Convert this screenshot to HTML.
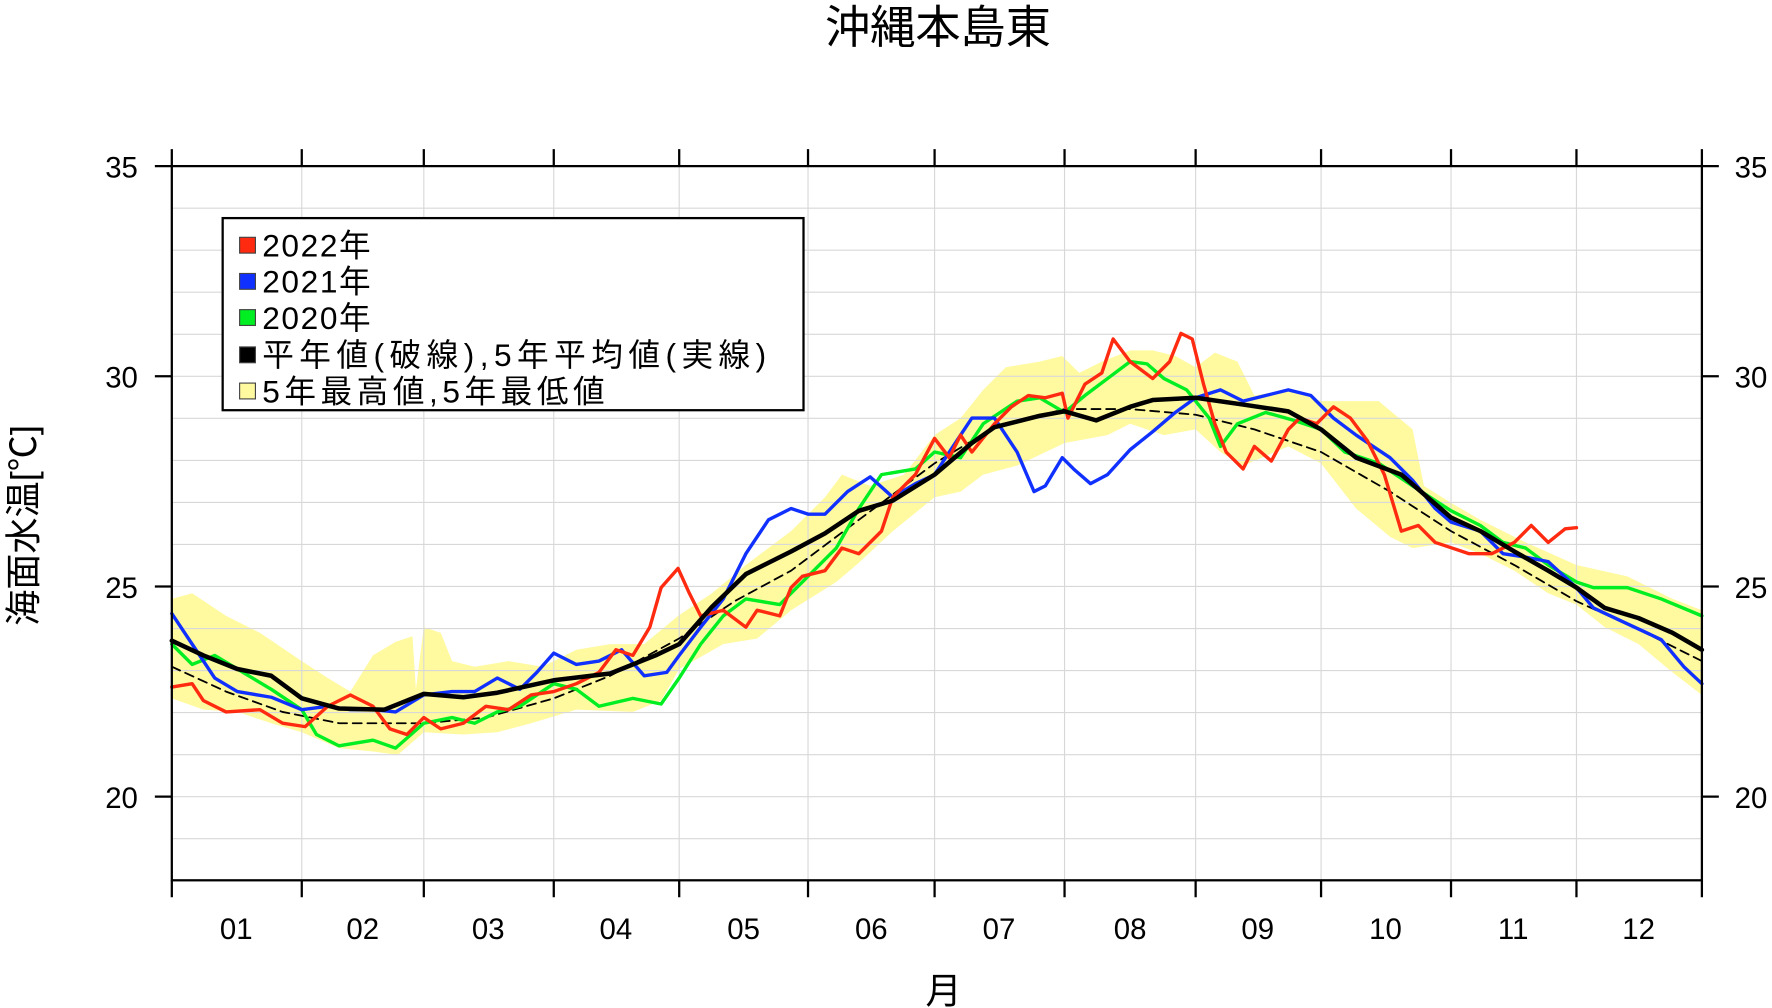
<!DOCTYPE html>
<html><head><meta charset="utf-8"><style>
html,body{margin:0;padding:0;background:#fff}
svg{display:block}
text{font-family:"Liberation Sans","Noto Sans CJK JP",sans-serif;fill:#000}
</style></head><body>
<svg width="1772" height="1008" viewBox="0 0 1568 892" xmlns="http://www.w3.org/2000/svg">
<rect width="1568" height="892" fill="#fff"/>
<text x="830" y="38" font-size="40" text-anchor="middle" style="font-size:40px">沖縄本島東</text>
<polygon fill="#fff9a0" points="152,530 170,525 200,545 230,560 267,585 290,600 310,612 330,580 350,568 365,563 368,610 375,555 390,560 400,585 420,590 450,585 480,590 510,575 540,570 570,570 600,545 630,525 660,500 700,470 730,440 745,420 770,430 800,420 827,385 850,370 870,345 890,325 920,320 940,315 955,330 975,320 1000,310 1020,310 1040,315 1058,325 1075,312 1095,320 1110,350 1140,345 1169,355 1190,355 1220,355 1250,380 1260,430 1284,445 1310,460 1330,470 1350,480 1395,500 1440,510 1480,530 1506,540 1506,615 1480,595 1450,570 1420,555 1395,535 1370,525 1340,505 1310,490 1284,480 1250,485 1230,475 1200,450 1169,410 1140,395 1100,412 1080,400 1058,380 1030,385 1000,375 980,385 942,392 900,412 870,420 850,435 827,440 790,470 760,498 740,515 700,540 670,565 640,570 601,592 585,620 560,630 510,628 470,640 440,648 410,650 375,648 352,668 330,665 300,662 267,648 240,640 210,630 180,628 152,618"/>
<g stroke="#d8d8d8" stroke-width="1">
<line x1="152" x2="1506" y1="184.2" y2="184.2"/><line x1="152" x2="1506" y1="221.4" y2="221.4"/><line x1="152" x2="1506" y1="258.6" y2="258.6"/><line x1="152" x2="1506" y1="295.8" y2="295.8"/><line x1="152" x2="1506" y1="333" y2="333"/>
<line x1="152" x2="1506" y1="370.2" y2="370.2"/><line x1="152" x2="1506" y1="407.4" y2="407.4"/><line x1="152" x2="1506" y1="444.6" y2="444.6"/><line x1="152" x2="1506" y1="481.8" y2="481.8"/><line x1="152" x2="1506" y1="519" y2="519"/>
<line x1="152" x2="1506" y1="556.2" y2="556.2"/><line x1="152" x2="1506" y1="593.4" y2="593.4"/><line x1="152" x2="1506" y1="630.6" y2="630.6"/><line x1="152" x2="1506" y1="667.8" y2="667.8"/><line x1="152" x2="1506" y1="705" y2="705"/><line x1="152" x2="1506" y1="742.2" y2="742.2"/>
<line x1="267" x2="267" y1="147" y2="779"/><line x1="375" x2="375" y1="147" y2="779"/><line x1="490" x2="490" y1="147" y2="779"/><line x1="601" x2="601" y1="147" y2="779"/><line x1="715" x2="715" y1="147" y2="779"/><line x1="827" x2="827" y1="147" y2="779"/><line x1="942" x2="942" y1="147" y2="779"/><line x1="1058" x2="1058" y1="147" y2="779"/><line x1="1169" x2="1169" y1="147" y2="779"/><line x1="1284" x2="1284" y1="147" y2="779"/><line x1="1395" x2="1395" y1="147" y2="779"/>
</g>
<g fill="none" stroke-linejoin="round" stroke-linecap="round">
<polyline stroke="#000" stroke-width="1.6" stroke-dasharray="8,5" points="152,590 200,612 250,630 300,640 375,640 430,635 490,618 540,598 601,565 650,532 700,505 760,460 827,410 880,378 942,362 1000,362 1058,367 1110,380 1169,400 1230,435 1284,470 1340,500 1395,532 1450,557 1506,585"/>
<polyline stroke="#00ee22" stroke-width="3" points="152,570 170,588 190,580 210,592 240,610 267,628 280,650 300,660 330,655 350,662 375,640 400,635 420,640 440,630 460,625 490,605 510,610 530,625 560,618 585,623 601,600 620,570 640,545 660,530 690,535 715,510 740,485 760,450 780,420 810,415 827,400 850,405 870,375 900,355 920,352 942,365 960,350 980,335 1000,320 1015,322 1030,335 1050,345 1070,370 1080,395 1095,375 1120,365 1145,372 1169,380 1190,400 1220,410 1250,430 1284,452 1310,465 1330,480 1350,485 1370,500 1395,515 1410,520 1440,520 1470,530 1506,545"/>
<polyline stroke="#1030ff" stroke-width="3" points="152,543 170,570 190,600 210,612 240,617 267,628 290,625 310,628 330,628 350,630 375,615 400,612 420,612 440,600 460,610 475,595 490,578 510,588 530,585 550,575 570,598 590,595 601,580 620,555 640,530 660,490 680,460 700,450 715,455 730,455 750,435 770,422 790,440 810,428 827,420 840,400 860,370 880,370 900,400 915,435 925,430 940,405 950,415 965,428 980,420 1000,398 1020,382 1040,365 1058,352 1080,345 1100,355 1120,350 1140,345 1160,350 1180,370 1200,385 1230,405 1250,425 1270,450 1284,462 1310,470 1330,490 1350,493 1370,497 1395,520 1410,538 1440,552 1470,566 1490,590 1506,605"/>
<polyline stroke="#ff2a10" stroke-width="3" points="152,608 170,605 180,620 200,630 230,628 250,640 270,643 290,625 310,615 330,625 345,645 360,650 375,635 390,645 410,640 430,625 450,628 470,615 490,612 510,605 530,595 545,575 560,580 575,555 585,520 600,503 610,525 620,545 640,540 660,555 670,540 690,545 700,520 710,510 730,505 745,485 760,490 780,470 790,440 810,420 827,388 840,405 850,385 860,400 880,375 895,360 910,350 925,352 940,348 945,370 960,340 975,330 985,300 1000,320 1020,335 1035,320 1045,295 1055,300 1065,340 1075,375 1085,400 1100,415 1110,395 1125,408 1140,380 1150,370 1165,375 1180,360 1195,370 1210,390 1225,420 1240,470 1255,465 1270,480 1285,485 1300,490 1320,490 1340,480 1355,465 1370,480 1385,468 1395,467"/>
<polyline stroke="#000" stroke-width="4" points="152,567 180,580 210,592 240,598 267,618 300,627 340,628 375,614 410,617 440,613 490,602 540,596 580,580 601,570 630,537 660,508 700,488 730,472 760,452 790,443 827,420 860,392 880,378 920,368 942,364 970,372 1000,360 1020,354 1058,352 1100,358 1140,364 1169,380 1200,405 1240,420 1284,458 1310,470 1340,488 1370,505 1395,520 1420,538 1450,547 1480,560 1506,575"/>
</g>
<rect x="152" y="147" width="1354" height="632" fill="none" stroke="#000" stroke-width="2"/>
<g stroke="#000" stroke-width="2">
<line x1="137" x2="152" y1="147" y2="147"/><line x1="137" x2="152" y1="333" y2="333"/><line x1="137" x2="152" y1="519" y2="519"/><line x1="137" x2="152" y1="705" y2="705"/>
<line x1="1506" x2="1521" y1="147" y2="147"/><line x1="1506" x2="1521" y1="333" y2="333"/><line x1="1506" x2="1521" y1="519" y2="519"/><line x1="1506" x2="1521" y1="705" y2="705"/>
<path d="M152,132V147M267,132V147M375,132V147M490,132V147M601,132V147M715,132V147M827,132V147M942,132V147M1058,132V147M1169,132V147M1284,132V147M1395,132V147M1506,132V147"/>
<path d="M152,779V794M267,779V794M375,779V794M490,779V794M601,779V794M715,779V794M827,779V794M942,779V794M1058,779V794M1169,779V794M1284,779V794M1395,779V794M1506,779V794"/>
</g>
<g font-size="26" text-anchor="end">
<text x="122" y="157">35</text><text x="122" y="343">30</text><text x="122" y="529">25</text><text x="122" y="715">20</text>
</g>
<g font-size="26" text-anchor="start">
<text x="1535" y="157">35</text><text x="1535" y="343">30</text><text x="1535" y="529">25</text><text x="1535" y="715">20</text>
</g>
<g font-size="26" text-anchor="middle">
<text x="209" y="831">01</text><text x="321" y="831">02</text><text x="432" y="831">03</text><text x="545" y="831">04</text><text x="658" y="831">05</text><text x="771" y="831">06</text><text x="884" y="831">07</text><text x="1000" y="831">08</text><text x="1113" y="831">09</text><text x="1226" y="831">10</text><text x="1339" y="831">11</text><text x="1450" y="831">12</text>
</g>
<text x="835" y="888" font-size="32" text-anchor="middle">月</text>
<text transform="translate(32,465) rotate(-90)" font-size="32" text-anchor="middle">海面水温[℃]</text>
<rect x="197" y="193" width="514" height="170" fill="#fff" stroke="#000" stroke-width="2"/>
<g stroke="#444" stroke-width="1">
<rect x="212" y="210" width="14" height="14" fill="#ff2a10"/>
<rect x="212" y="242" width="14" height="14" fill="#1030ff"/>
<rect x="212" y="274" width="14" height="14" fill="#00ee22"/>
<rect x="212" y="307" width="14" height="14" fill="#000"/>
<rect x="212" y="339" width="14" height="14" fill="#fff9a0"/>
</g>
<g style="font-family:'Liberation Mono','Noto Sans CJK JP',monospace;font-size:28px">
<text x="232" y="227" textLength="96">2022年</text>
<text x="232" y="259" textLength="96">2021年</text>
<text x="232" y="291" textLength="96">2020年</text>
<text x="232" y="324" textLength="446">平年値(破線),5年平均値(実線)</text>
<text x="232" y="356" textLength="303">5年最高値,5年最低値</text>
</g>
</svg>
</body></html>
